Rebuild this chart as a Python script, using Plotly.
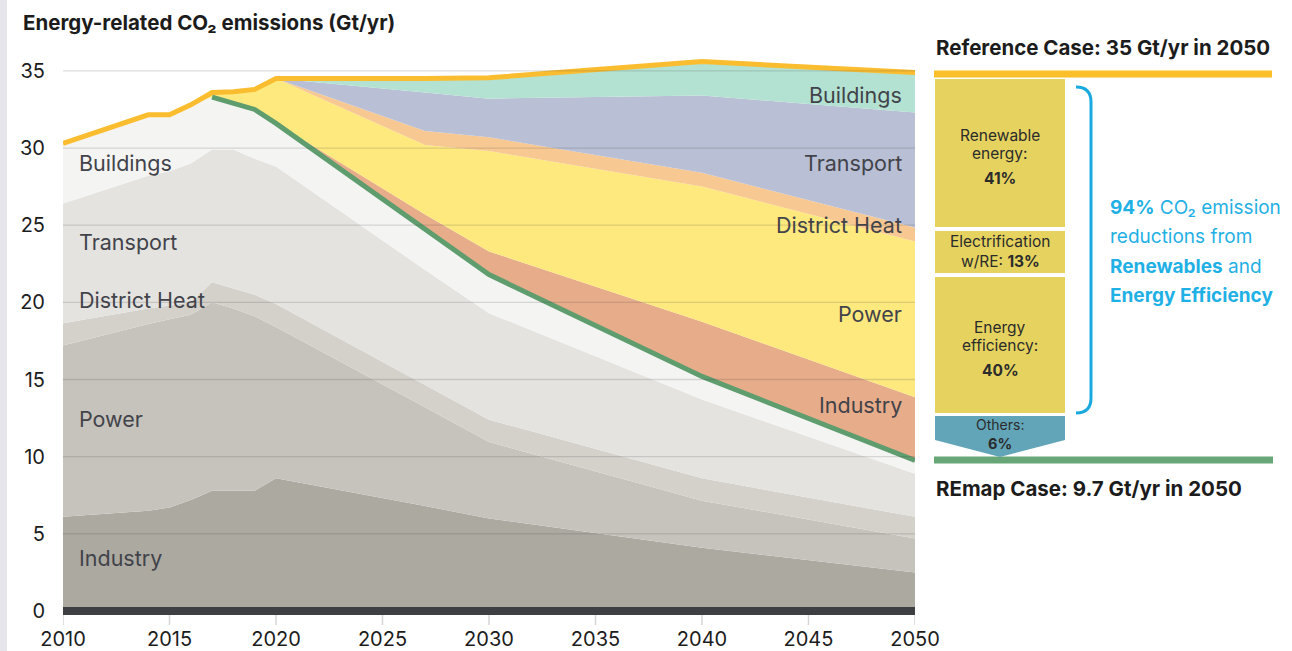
import numpy as np
import plotly.graph_objects as go

# years on the x axis (kinks of the drawn areas)
years = [2010, 2014, 2015, 2016, 2017, 2018, 2019, 2020, 2027, 2030, 2040, 2050]

# REmap case emissions by sector (Gt/yr), stacked bottom-up
remap_industry = [6.1, 6.5, 6.7, 7.2, 7.8, 7.8, 7.8, 8.6, 6.8, 6.0, 4.1, 2.5]
remap_power = [11.1, 12.1, 12.2, 12.0, 12.2, 11.8, 11.3, 9.8, 6.4, 4.95, 3.05, 2.2]
remap_district_heat = [1.45, 1.0, 0.9, 0.8, 1.3, 1.3, 1.4, 1.5, 1.45, 1.45, 1.45, 1.4]
remap_transport = [7.75, 8.6, 8.7, 9.0, 8.6, 9.0, 8.8, 8.9, 7.45, 6.9, 5.1, 2.8]
remap_buildings = [3.9, 3.95, 3.65, 3.8, 3.4, 3.0, 3.2, 2.8, 2.6, 2.5, 1.5, 0.85]

# reductions vs Reference case, stacked on top of the REmap total
cut_industry = [0, 0, 0, 0, 0, 0, 0, 0, 1.0, 1.5, 3.55, 4.1]
cut_power = [0, 0, 0, 0, 0.3, 0.75, 1.3, 2.9, 4.5, 6.5, 8.75, 10.1]
cut_district_heat = [0, 0, 0, 0, 0, 0, 0, 0, 0.9, 0.9, 0.9, 0.9]
cut_transport = [0, 0, 0, 0, 0, 0, 0, 0, 2.5, 2.5, 5.0, 7.45]
cut_buildings = [0, 0, 0, 0, 0, 0, 0, 0, 0.9, 1.35, 2.2, 2.6]

sector_names = ["Industry", "Power", "District Heat", "Transport", "Buildings"]
x_ticks = [2010, 2015, 2020, 2025, 2030, 2035, 2040, 2045, 2050]
y_ticks = [0, 5, 10, 15, 20, 25, 30, 35]

remap = [remap_industry, remap_power, remap_district_heat, remap_transport, remap_buildings]
cuts = [cut_industry, cut_power, cut_district_heat, cut_transport, cut_buildings]
remap_total = np.sum(remap, axis=0)
reference_total = remap_total + np.sum(cuts, axis=0)

grey_cols = ["#aca9a1", "#c6c3bc", "#d4d1cb", "#e4e3e0", "#f4f4f2"]
cut_cols = ["#e7ac89", "#fde97e", "#f8c893", "#b9bfd4", "#b3e2d2"]

FONT = "Inter"
TXT = "#1c1c1c"
LAB = "#42434a"

fig = go.Figure()

for name, vals, col in zip(sector_names, remap, grey_cols):
    fig.add_trace(go.Scatter(x=years, y=vals, name=name, stackgroup="co2", mode="none",
                             fillcolor=col, hoverinfo="skip"))
for name, vals, col in zip(sector_names, cuts, cut_cols):
    fig.add_trace(go.Scatter(x=years, y=vals, name=name + " cut", stackgroup="co2", mode="none",
                             fillcolor=col, hoverinfo="skip"))

# reference case line and REmap line (green starts at the peak)
fig.add_trace(go.Scatter(x=years, y=reference_total, mode="lines",
                         line=dict(color="#fbbd30", width=5), hoverinfo="skip"))
fig.add_trace(go.Scatter(x=years[4:], y=remap_total[4:], mode="lines",
                         line=dict(color="#5f9d6f", width=5), hoverinfo="skip"))

# pixel -> paper helpers for the side panel
L, W, T, H = 63, 852, 40, 576


def fx(p):
    return (p - L) / W


def fy(p):
    return (T + H - p) / H


shapes = []
for v in y_ticks[1:]:
    shapes.append(dict(type="line", xref="x", yref="y", x0=2010, x1=2050, y0=v, y1=v,
                       line=dict(color="rgba(60,60,60,0.17)", width=1.3), layer="above"))
shapes.append(dict(type="line", xref="x", yref="y", x0=2010, x1=2050, y0=0, y1=0,
                   line=dict(color="#3e3f43", width=8), layer="above"))
# x tick marks under the baseline
for t in x_ticks:
    shapes.append(dict(type="line", xref="x", yref="paper", x0=t, x1=t, y0=fy(615), y1=fy(625),
                       line=dict(color="#d6d6d6", width=1.5)))
# left strip
shapes.append(dict(type="rect", xref="paper", yref="paper", x0=fx(0), x1=fx(7), y0=fy(651), y1=fy(0),
                   fillcolor="#e5e5eb", line=dict(width=0)))
# reference / remap bars
shapes.append(dict(type="line", xref="paper", yref="paper", x0=fx(934), x1=fx(1272), y0=fy(74), y1=fy(74),
                   line=dict(color="#fbbf2a", width=7)))
shapes.append(dict(type="line", xref="paper", yref="paper", x0=fx(934), x1=fx(1273), y0=fy(460), y1=fy(460),
                   line=dict(color="#66a677", width=7)))
# boxes
for top, bot in [(79, 227), (231, 273), (277, 413)]:
    shapes.append(dict(type="rect", xref="paper", yref="paper", x0=fx(935), x1=fx(1065), y0=fy(bot), y1=fy(top),
                       fillcolor="#e6d35f", line=dict(width=0)))
arrow = "M {},{} L {},{} L {},{} L {},{} L {},{} Z".format(
    fx(935), fy(416), fx(1065), fy(416), fx(1065), fy(440), fx(1000), fy(457), fx(935), fy(440))
shapes.append(dict(type="path", xref="paper", yref="paper", path=arrow,
                   fillcolor="#62a5b8", line=dict(width=0)))
bracket = "M {},{} Q {},{} {},{} L {},{} Q {},{} {},{}".format(
    fx(1076), fy(87), fx(1091), fy(87), fx(1091), fy(102), fx(1091), fy(398),
    fx(1091), fy(413), fx(1076), fy(413))
shapes.append(dict(type="path", xref="paper", yref="paper", path=bracket,
                   line=dict(color="#1aa9df", width=3)))

ann = []


def label(text, x, y, size=20, color=LAB, anchor="left", family=FONT):
    ann.append(dict(text=text, xref="paper", yref="paper", x=fx(x), y=fy(y), xanchor=anchor,
                    yanchor="middle", showarrow=False, font=dict(size=size, color=color, family=family)))


label("<b>Energy-related CO₂ emissions (Gt/yr)</b>", 21, 22, size=20.5, color=TXT)

for name, yy in zip(sector_names, [558, 419, 300, 242, 163]):
    label(name, 77, yy, size=21.5)
for name, yy in zip(sector_names, [405, 314, 225, 163, 95]):
    label(name, 904, yy, size=21.5, anchor="right")

label("<b>Reference Case: 35 Gt/yr in 2050</b>", 934, 48, size=20.5, color=TXT)
label("<b>REmap Case: 9.7 Gt/yr in 2050</b>", 934, 488, size=20.5, color=TXT)

box_lines = [("Renewable", 135), ("energy:", 153), ("<b>41%</b>", 178),
             ("Electrification", 241), ("w/RE: <b>13%</b>", 261),
             ("Energy", 327), ("efficiency:", 345), ("<b>40%</b>", 370)]
for t, yy in box_lines:
    label(t, 1000, yy, size=15.5, color="#2b2b2b", anchor="center")
label("Others:", 1000, 424.5, size=14, color="#2b2b2b", anchor="center")
label("<b>6%</b>", 1000, 443, size=14.5, color="#2b2b2b", anchor="center")

blue = "#1fb0e5"
for t, yy in [("<b>94%</b> CO₂ emission", 208), ("reductions from", 237),
              ("<b>Renewables</b> and", 266), ("<b>Energy Efficiency</b>", 295)]:
    label(t, 1108, yy, size=19, color=blue)

fig.update_layout(
    width=1292, height=651,
    margin=dict(l=L, r=1292 - L - W, t=T, b=651 - T - H),
    paper_bgcolor="white", plot_bgcolor="white",
    showlegend=False,
    font=dict(family=FONT, color=TXT),
    shapes=shapes, annotations=ann,
    xaxis=dict(range=[2010, 2050], tickvals=x_ticks, ticks="outside", ticklen=5,
               tickcolor="rgba(0,0,0,0)", showgrid=False, showline=False, zeroline=False,
               tickfont=dict(size=20, color=TXT, family=FONT), fixedrange=True, automargin=False),
    yaxis=dict(range=[-0.324, 37.0], tickvals=y_ticks, ticks="outside", ticklen=13,
               tickcolor="rgba(0,0,0,0)", showgrid=False, showline=False, zeroline=False,
               tickfont=dict(size=20, color=TXT, family=FONT), fixedrange=True, automargin=False),
)

# drop the page's default body margin so the 1292x651 figure fills the window exactly
fig.write_html("out.html", config={"displayModeBar": False},
               post_script="document.body.style.margin='0';document.body.style.overflow='hidden';")
